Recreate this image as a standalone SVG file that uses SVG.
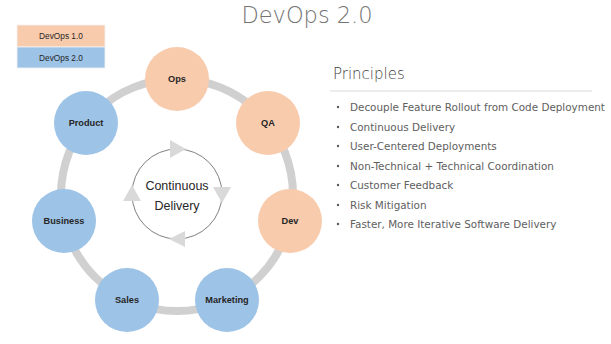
<svg xmlns="http://www.w3.org/2000/svg" width="611" height="344" viewBox="0 0 611 344">
<style>
.node-o{fill:#F8CBAD;}
.node-b{fill:#9DC3E6;}
.lbl{font-family:"Liberation Sans",Arial,sans-serif;font-size:9.2px;font-weight:bold;fill:#262626;text-anchor:middle;dominant-baseline:central;}
.leg{font-family:"Liberation Sans",Arial,sans-serif;font-size:8.3px;fill:#262626;text-anchor:middle;dominant-baseline:central;}
.bul{font-family:"DejaVu Sans",sans-serif;font-size:10.4px;fill:#606060;}
.tri{fill:#D9D9D9;}
</style>
<rect width="611" height="344" fill="#ffffff"/>
<text x="307" y="23" font-family="DejaVu Sans,sans-serif" font-weight="200" font-size="22.5" fill="#737373" text-anchor="middle">DevOps 2.0</text>
<g id="legend">
<rect x="17" y="25" width="88" height="22" fill="#F8CBAD" stroke="#F2F2F2" stroke-width="0.8"/>
<rect x="17" y="47" width="88" height="21" fill="#9DC3E6" stroke="#F2F2F2" stroke-width="0.8"/>
<text class="leg" x="61" y="36">DevOps 1.0</text>
<text class="leg" x="61" y="57.5">DevOps 2.0</text>
</g>
<g id="connectors">
<circle cx="177" cy="195" r="116" fill="none" stroke="#D0D0D0" stroke-width="8"/>
<circle cx="177" cy="194" r="45" fill="none" stroke="#7F7F7F" stroke-width="1"/>
<polygon class="tri" points="186,149 170,140 170,158"/>
<polygon class="tri" points="222,203 213,187 231,187"/>
<polygon class="tri" points="169,239 185,231 185,247"/>
<polygon class="tri" points="132,185 123,201 141,201"/>
</g>
<g id="center">
<text x="177" y="190" font-family="Liberation Sans,Arial,sans-serif" font-size="12.5" fill="#262626" text-anchor="middle">Continuous</text>
<text x="177" y="210" font-family="Liberation Sans,Arial,sans-serif" font-size="12.5" fill="#262626" text-anchor="middle">Delivery</text>
</g>
<g id="node-ops"><circle class="node-o" cx="177" cy="79" r="32"/><text class="lbl" x="177" y="79">Ops</text></g>
<g id="node-qa"><circle class="node-o" cx="268" cy="123" r="32"/><text class="lbl" x="268" y="123">QA</text></g>
<g id="node-dev"><circle class="node-o" cx="290" cy="221" r="32"/><text class="lbl" x="290" y="221">Dev</text></g>
<g id="node-marketing"><circle class="node-b" cx="227" cy="300" r="32"/><text class="lbl" x="227" y="300">Marketing</text></g>
<g id="node-sales"><circle class="node-b" cx="127" cy="300" r="32"/><text class="lbl" x="127" y="300">Sales</text></g>
<g id="node-business"><circle class="node-b" cx="64" cy="221" r="32"/><text class="lbl" x="64" y="221">Business</text></g>
<g id="node-product"><circle class="node-b" cx="86" cy="123" r="32"/><text class="lbl" x="86" y="123">Product</text></g>
<g id="principles">
<text x="333" y="79" font-family="DejaVu Sans,sans-serif" font-weight="200" font-size="15" fill="#404040">Principles</text>
<line x1="330" y1="91" x2="592" y2="91" stroke="#D9D9D9" stroke-width="1"/>
<g fill="#595959">
<circle cx="338" cy="107" r="1.2"/><circle cx="338" cy="127" r="1.2"/><circle cx="338" cy="146" r="1.2"/><circle cx="338" cy="166" r="1.2"/><circle cx="338" cy="185" r="1.2"/><circle cx="338" cy="205" r="1.2"/><circle cx="338" cy="224" r="1.2"/>
</g>
<text class="bul" x="350" y="110.5">Decouple Feature Rollout from Code Deployment</text>
<text class="bul" x="350" y="130.5">Continuous Delivery</text>
<text class="bul" x="350" y="149.5">User-Centered Deployments</text>
<text class="bul" x="350" y="169.5">Non-Technical + Technical Coordination</text>
<text class="bul" x="350" y="188.5">Customer Feedback</text>
<text class="bul" x="350" y="208.5">Risk Mitigation</text>
<text class="bul" x="350" y="227.5">Faster, More Iterative Software Delivery</text>
</g>
</svg>
